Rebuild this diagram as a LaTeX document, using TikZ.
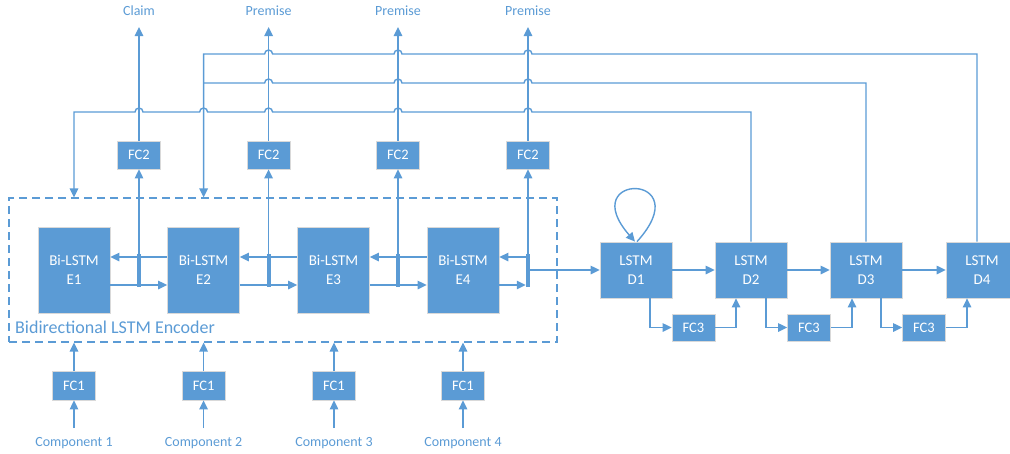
\documentclass[tikz,border=0pt]{standalone}
\usepackage{fontspec}
\setmainfont{Carlito}
\usetikzlibrary{arrows.meta,calc}
\definecolor{bl}{HTML}{5B9BD5}
\begin{document}
\begin{tikzpicture}[x=1pt,y=-1pt,
 box/.style={fill=bl,draw=black!15,line width=0.8pt,text=white,align=center,inner sep=0pt},
 ebox/.style={box,minimum width=72pt,minimum height=86pt,font=\fontsize{15}{19}\selectfont},
 dbox/.style={box,minimum width=72pt,minimum height=56pt,font=\fontsize{15}{19}\selectfont},
 fcbox/.style={box,minimum width=43pt,minimum height=28pt,font=\fontsize{14.5}{16}\selectfont},
 lab/.style={text=bl,font=\fontsize{14}{16}\selectfont,inner sep=0pt},
 conn/.style={draw=bl,line width=1.4pt},
 arr/.style={conn,-{Triangle[length=9pt,width=8.5pt]}},
 barbox/.style={fill=bl,inner sep=0pt,minimum width=4pt,minimum height=33pt},
]
\useasboundingbox (0,0) rectangle (1010,453);
% encoder frame
\node[draw=bl,line width=1.2pt,dash pattern=on 8pt off 5pt,minimum width=548pt,minimum height=144pt,inner sep=0pt] (enc) at (283,270) {};
\node[lab,font=\fontsize{18}{20}\selectfont,anchor=west] (enclab) at (15,327) {Bidirectional LSTM Encoder};
% encoder boxes
\node[ebox] (e1) at (74,270) {Bi-LSTM\\E1};
\node[ebox] (e2) at (203.5,270) {Bi-LSTM\\E2};
\node[ebox] (e3) at (333.5,270) {Bi-LSTM\\E3};
\node[ebox] (e4) at (463,270) {Bi-LSTM\\E4};
% bars
\node[barbox] (b1) at (139,270.5) {};
\node[barbox] (b2) at (268.6,270.5) {};
\node[barbox] (b3) at (398,270.5) {};
\node[barbox] (b4) at (528,270.5) {};
% FC2
\node[fcbox] (f21) at (139,155) {FC2};
\node[fcbox] (f22) at (268.6,155) {FC2};
\node[fcbox] (f23) at (398,155) {FC2};
\node[fcbox] (f24) at (528,155) {FC2};
% top labels
\node[lab] (t1) at (139,11) {Claim};
\node[lab] (t2) at (268.6,11) {Premise};
\node[lab] (t3) at (398,11) {Premise};
\node[lab] (t4) at (528,11) {Premise};
% FC1
\node[fcbox,minimum height=29pt] (f11) at (74,385.5) {FC1};
\node[fcbox,minimum height=29pt] (f12) at (203.6,385.5) {FC1};
\node[fcbox,minimum height=29pt] (f13) at (334,385.5) {FC1};
\node[fcbox,minimum height=29pt] (f14) at (463,385.5) {FC1};
% components
\node[lab] (c1) at (74,443) {Component 1};
\node[lab] (c2) at (203.6,443) {Component 2};
\node[lab] (c3) at (334,443) {Component 3};
\node[lab] (c4) at (463,443) {Component 4};
% decoder
\node[dbox] (d1) at (636,270) {LSTM\\D1};
\node[dbox] (d2) at (751,270) {LSTM\\D2};
\node[dbox] (d3) at (866,270) {LSTM\\D3};
\node[dbox] (d4) at (982,270) {LSTM\\D4};
\node[fcbox,minimum height=27pt] (f31) at (693.5,327.5) {FC3};
\node[fcbox,minimum height=27pt] (f32) at (809,327.5) {FC3};
\node[fcbox,minimum height=27pt] (f33) at (924,327.5) {FC3};

\coordinate (yb) at (0,257);
\coordinate (yf) at (0,285);
\coordinate (ytop) at (0,27);
\coordinate (ycomp) at (0,428);

% encoder horizontal arrows
\foreach \a/\b/\c in {e1/e2/b1,e2/e3/b2,e3/e4/b3}{
  \draw[arr] (\a.east |- yf) -- (\b.west |- yf);
  \draw[arr] (\b.west |- yb) -- (\a.east |- yb);
}
\draw[arr] (e4.east |- yf) -- (b4.west |- yf);
\draw[arr] (b4.center |- yb) -- (e4.east |- yb);
\draw[arr] (b4.center |- d1.west) -- (d1.west);

% bars to FC2 to labels
\foreach \i in {1,2,3,4}{
  \draw[arr] (b\i.north) -- (f2\i.south);
  \draw[arr] (f2\i.north) -- (f2\i.north |- ytop);
  \draw[arr] (f1\i.north) -- (f1\i.north |- enc.south);
  \draw[arr] (f1\i.south |- ycomp) -- (f1\i.south);
}

% decoder
\draw[arr] (d1) -- (d2);
\draw[arr] (d2) -- (d3);
\draw[arr] (d3) -- (d4);
\draw[arr] ($(d1.north)+(1,0)$) .. controls (700,172) and (574,172) .. ($(d1.north)+(-1,0)$);
\draw[arr] ($(d1.south)+(14,0)$) |- (f31.west);
\draw[arr] (f31.east) -| ($(d2.south)+(-15,0)$);
\draw[arr] ($(d2.south)+(15,0)$) |- (f32.west);
\draw[arr] (f32.east) -| ($(d3.south)+(-14,0)$);
\draw[arr] ($(d3.south)+(15,0)$) |- (f33.west);
\draw[arr] (f33.east) -| ($(d4.south)+(-15,0)$);

% feedback lines with hops
\draw[arr] (d2.north) -- (751,112) -- (532,112)
  arc[start angle=0,end angle=180,radius=4pt] -- (402,112)
  arc[start angle=0,end angle=180,radius=4pt] -- (272.6,112)
  arc[start angle=0,end angle=180,radius=4pt] -- (207.6,112)
  arc[start angle=0,end angle=180,radius=4pt] -- (143,112)
  arc[start angle=0,end angle=180,radius=4pt] -- (74,112) -- (e1.center |- enc.north);
\draw[conn] (d3.north) -- (866,83) -- (532,83)
  arc[start angle=0,end angle=180,radius=4pt] -- (402,83)
  arc[start angle=0,end angle=180,radius=4pt] -- (272.6,83)
  arc[start angle=0,end angle=180,radius=4pt] -- (203.6,83);
\draw[arr] ($(d4.north)+(-5,0)$) -- (977,54) -- (532,54)
  arc[start angle=0,end angle=180,radius=4pt] -- (402,54)
  arc[start angle=0,end angle=180,radius=4pt] -- (272.6,54)
  arc[start angle=0,end angle=180,radius=4pt] -- (203.6,54) -- (203.6,0 |- enc.north);
\end{tikzpicture}
\end{document}
